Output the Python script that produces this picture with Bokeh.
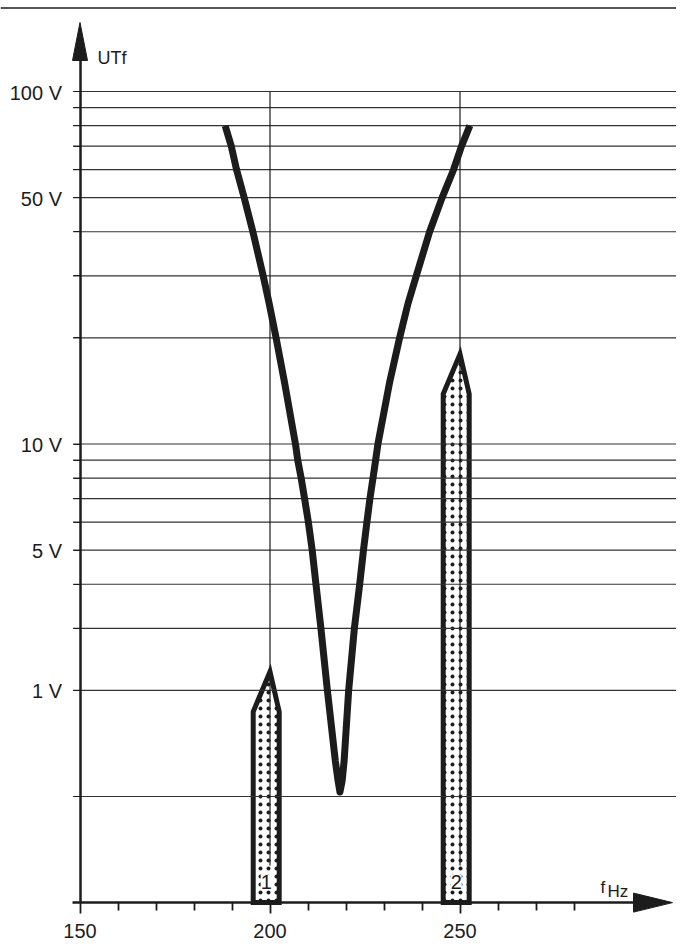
import numpy as np
from bokeh.plotting import figure
from bokeh.models import Range1d, LogAxis, LinearAxis, FixedTicker, Span
from bokeh.core.properties import value
from bokeh.embed import file_html
from bokeh.resources import INLINE

# ---------------- data ----------------
GRID_V = [100, 90, 80, 70, 60, 50, 40, 30, 20, 10, 9, 8, 7, 6, 5, 4, 3, 2, 1]
Y_TICKS = [100, 50, 10, 5, 2]
Y_TICK_LABELS = ["100 V", "50 V", "10 V", "5 V", "1 V"]
X_MAJOR = [150, 200, 250]
X_MINOR = [160, 170, 180, 190, 210, 220, 230, 240, 260, 270, 280]

CURVE_HZ = [188.2, 189.8, 191.2, 193.2, 195.5, 198.2, 199.8, 201.6, 203.8, 206.7,
            207.3, 208.2, 209.1, 210.1, 211.1, 212.1, 213.4, 215.1, 217.2, 217.9,
            218.4,
            219.0, 219.5, 220.7, 222.2, 223.6, 224.6, 225.5, 226.3, 227.1, 227.8,
            228.4, 231.5, 234.1, 236.3, 238.5, 242.0, 245.3, 248.3, 250.4, 252.6]
CURVE_V = [80, 70, 60, 50, 40, 30, 25, 20, 15, 10,
           9, 8, 7, 6, 5, 4, 3, 2, 1.26, 1.11,
           1.03,
           1.11, 1.26, 2, 3, 4, 5, 6, 7, 8, 9,
           10, 15, 20, 25, 30, 40, 50, 60, 70, 80]

BAR_HZ = [200, 250]
BAR_V = [2.26, 18.0]
BAR_NAMES = ["1", "2"]

# ---------------- geometry (page pixels -> data) ----------------
W, H = 676, 945
PX_150, PX_PER_HZ = 79.5, 3.8       # x position of 150 Hz, pixels per Hz
PY_100, PX_PER_DEC = 91.0, 352.5    # y position of 100 V, pixels per decade
X0 = 150 - PX_150 / PX_PER_HZ
X1 = 150 + (W - PX_150) / PX_PER_HZ
Y1 = 100 * 10 ** (PY_100 / PX_PER_DEC)
Y0 = 100 * 10 ** (-(H - PY_100) / PX_PER_DEC)
YBASE = 0.5
XBASE = 150


def dx(px):
    return px / PX_PER_HZ


def up(v, px):
    return v * 10 ** (px / PX_PER_DEC)


INK = "#1c1c1c"
FONT = "Liberation Sans"

p = figure(width=W, height=H, x_range=Range1d(X0, X1), y_range=Range1d(Y0, Y1),
           y_axis_type="log", x_axis_location=None, y_axis_location=None,
           min_border=0, toolbar_location=None, output_backend="svg",
           outline_line_color=None, background_fill_color="white",
           border_fill_color="white")
p.grid.visible = False

# top rule
p.add_layout(Span(location=up(100, PY_100 - 7.5), dimension="width",
                  line_color=INK, line_width=1.5))

# bars (spear shapes with dotted fill)
hl, hr = dx(16.8), dx(9.2)
bxs, bys = [], []
for c, t in zip(BAR_HZ, BAR_V):
    sh = up(t, -40)
    bxs.append([c - hl, c - hl, c, c + hr, c + hr])
    bys.append([YBASE, sh, t, sh, YBASE])
p.patches(bxs, bys, fill_color="white", line_color=INK, line_width=5,
          line_join="miter", hatch_pattern="dot", hatch_color=INK,
          hatch_scale=8, hatch_weight=2)

# horizontal grid lines
n = len(GRID_V)
p.segment(x0=[XBASE - dx(7)] * n, x1=[X1] * n, y0=GRID_V, y1=GRID_V,
          line_color="#333333", line_width=1.2)

# vertical marker lines at the two frequencies
p.segment(x0=BAR_HZ, x1=BAR_HZ, y0=[GRID_V[0]] * 2, y1=[up(YBASE, 37)] * 2,
          line_color=INK, line_width=1.2)

# response curve
p.line(CURVE_HZ, CURVE_V, line_color=INK, line_width=7, line_join="round",
       line_cap="butt")

# bar numbers
p.text(x=[c - dx(3.8) for c in BAR_HZ], y=[up(YBASE, 21)] * 2, text=BAR_NAMES,
       text_align="center", text_baseline="middle", text_font=value(FONT),
       text_font_size="20px", text_color=INK, background_fill_color="white")

# arrow heads
p.patch([XBASE - dx(7.5), XBASE, XBASE + dx(7.5)],
        [up(100, PY_100 - 60), up(100, PY_100 - 22), up(100, PY_100 - 60)],
        color=INK, line_width=1)
p.patch([XBASE + dx(553.5), XBASE + dx(592.5), XBASE + dx(553.5)],
        [up(YBASE, -9.5), YBASE, up(YBASE, 9.5)], color=INK, line_width=1)

# y tick labels (baseline sits on the grid line, as in the original)
p.text(x=[XBASE - dx(18)] * len(Y_TICKS), y=Y_TICKS, text=Y_TICK_LABELS,
       text_align="right", text_baseline="alphabetic", y_offset=1,
       text_font=value(FONT), text_font_size="20px", text_color=INK)

# axis titles
p.text(x=[XBASE + dx(17.5)], y=[up(100, PY_100 - 57)], text=["UTf"],
       text_align="left", text_baseline="alphabetic", text_font=value(FONT),
       text_font_size="18px", text_color=INK)
p.text(x=[XBASE + dx(520.5)], y=[up(YBASE, 15)], text=["f"], text_align="left",
       text_baseline="alphabetic", text_font=value(FONT), text_font_size="17px",
       text_color=INK)
p.text(x=[XBASE + dx(527.5)], y=[up(YBASE, 11)], text=["Hz"], text_align="left",
       text_baseline="alphabetic", text_font=value(FONT), text_font_size="17px",
       text_color=INK)

# axes
yaxis = LogAxis(fixed_location=XBASE, ticker=FixedTicker(ticks=GRID_V),
                major_label_overrides={v: "" for v in GRID_V},
                bounds=(YBASE, up(100, 50)),
                axis_line_color=INK, axis_line_width=2.5,
                major_tick_out=7, major_tick_in=0, minor_tick_out=0, minor_tick_in=0,
                major_tick_line_color=INK, major_tick_line_width=1.2,
                major_label_text_font_size="1px")
p.add_layout(yaxis, "left")

xaxis = LinearAxis(fixed_location=YBASE,
                   ticker=FixedTicker(ticks=X_MAJOR, minor_ticks=X_MINOR),
                   bounds=(XBASE - dx(8), XBASE + dx(560)),
                   axis_line_color=INK, axis_line_width=2.5,
                   major_tick_out=11, major_tick_in=0, minor_tick_out=8, minor_tick_in=0,
                   major_tick_line_color=INK, major_tick_line_width=1.8,
                   minor_tick_line_color=INK, minor_tick_line_width=1.8,
                   major_label_standoff=10, major_label_text_font=FONT,
                   major_label_text_font_size="20px", major_label_text_color=INK)
p.add_layout(xaxis, "below")

open("out.html", "w").write(file_html(p, INLINE))
